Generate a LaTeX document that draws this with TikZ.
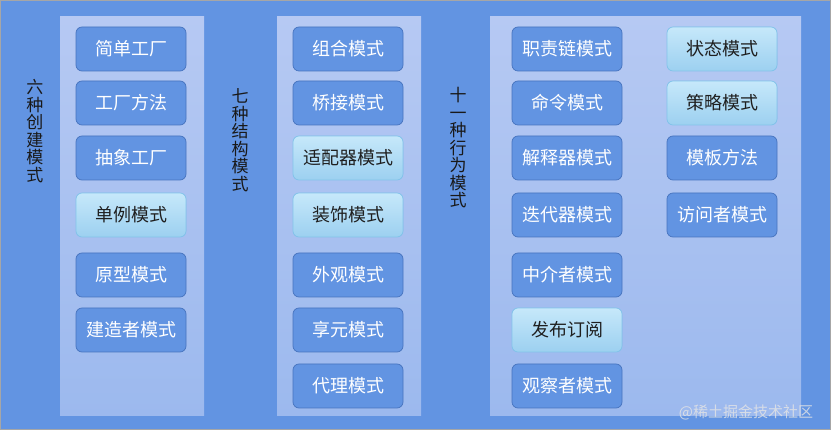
\documentclass[tikz,border=0pt]{standalone}
\usepackage{fontspec}
\newfontfamily\cjk{Noto Sans CJK SC}
\usepackage{xcolor}
\definecolor{dpblue}{RGB}{98,148,226}
\definecolor{dpedge}{RGB}{70,115,190}
\definecolor{dppanelt}{RGB}{182,201,243}
\definecolor{dppanelb}{RGB}{156,185,238}
\definecolor{dplightt}{RGB}{198,232,250}
\definecolor{dplightb}{RGB}{156,208,240}
\definecolor{dplightedge}{RGB}{130,196,234}
\usepackage{tikz}
\tikzset{
  pbox/.style={draw=dpedge,line width=0.7pt,fill=dpblue,rounded corners=6pt,
    minimum width=110pt,minimum height=44pt,inner sep=0pt,text=white,
    font=\cjk\fontsize{18}{18}\selectfont},
  pboxl/.style={pbox,draw=dplightedge,top color=dplightt,bottom color=dplightb,
    text=black!88},
  panel/.style={top color=dppanelt,bottom color=dppanelb,draw=none},
  vlabel/.style={align=center,inner sep=0pt,text=black!90,
    font=\cjk\fontsize{17}{17.5}\selectfont}
}

\begin{document}
\begin{tikzpicture}[x=1pt,y=-1pt]
\useasboundingbox (0,0) rectangle (831,430);
% ---- tlo ----
\fill[dpblue] (0,0) rectangle (831,430);
\draw[black!35,line width=0.6pt] (0.3,0.3) rectangle (830.7,429.7);
% panele
\shade[panel] (60,17) rectangle (204,416);
\shade[panel] (277,17) rectangle (421,416);
\shade[panel] (490,17) rectangle (801,416);
% opisy pionowe
\node[vlabel] (cjlabel) at (35,131) {六\\种\\创\\建\\模\\式};
\node[vlabel] (jglabel) at (240,140) {七\\种\\结\\构\\模\\式};
\node[vlabel] (xwlabel) at (458,148) {十\\一\\种\\行\\为\\模\\式};
% ---- chuangjian ----
\foreach \y/\t/\s [count=\i] in {49/简单工厂/pbox,103/工厂方法/pbox,158/抽象工厂/pbox,
  215/单例模式/pboxl,275/原型模式/pbox,330/建造者模式/pbox}
  \node[\s] (cj\i) at (131,\y) {\t};
% ---- jiegou ----
\foreach \y/\t/\s [count=\i] in {49/组合模式/pbox,103/桥接模式/pbox,158/适配器模式/pboxl,
  215/装饰模式/pboxl,275/外观模式/pbox,330/享元模式/pbox,386/代理模式/pbox}
  \node[\s] (jg\i) at (348,\y) {\t};
% ---- xingwei ----
\foreach \y/\t/\s [count=\i] in {49/职责链模式/pbox,103/命令模式/pbox,158/解释器模式/pbox,
  215/迭代器模式/pbox,275/中介者模式/pbox,330/发布订阅/pboxl,386/观察者模式/pbox}
  \node[\s] (xw\i) at (567,\y) {\t};
\foreach \y/\t/\s [count=\i] in {49/状态模式/pboxl,103/策略模式/pboxl,158/模板方法/pbox,
  215/访问者模式/pbox}
  \node[\s] (xr\i) at (722,\y) {\t};
% znak wodny
\node[text=white!80!gray,opacity=0.8,font=\cjk\fontsize{15}{15}\selectfont] (mark) at (746,412) {@稀土掘金技术社区};
\end{tikzpicture}
\end{document}
